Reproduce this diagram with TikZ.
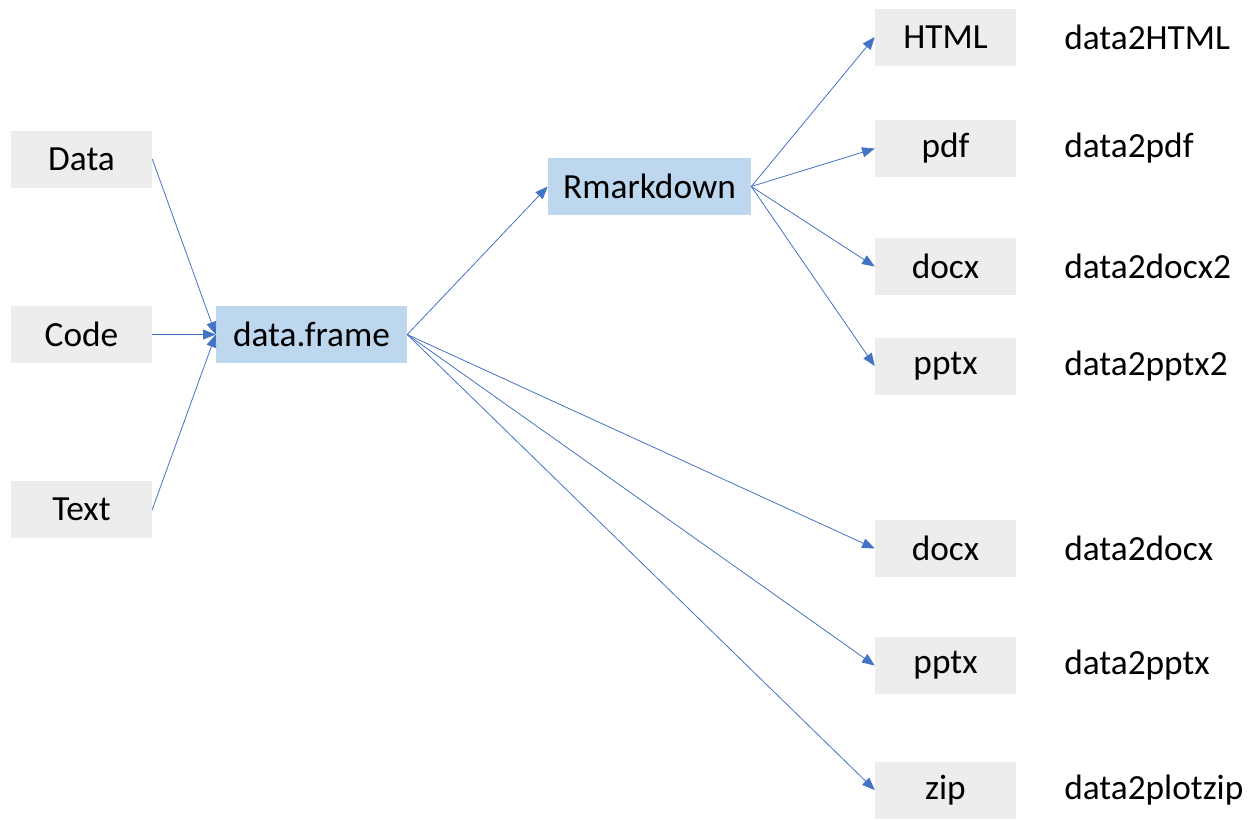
\documentclass[tikz,border=0pt]{standalone}
\usepackage{fontspec}
\setmainfont{Carlito}
\usetikzlibrary{arrows.meta}
\definecolor{boxgray}{HTML}{EDEDED}
\definecolor{boxblue}{HTML}{BDD7EE}
\definecolor{arrowblue}{HTML}{4472C4}
\tikzset{
  fmtbox/.style={fill=boxgray, minimum width=105.75pt, minimum height=42.75pt, inner sep=0pt, font=\fontsize{26.5}{31}\selectfont},
  hubbox/.style={fmtbox, fill=boxblue},
  fnlabel/.style={anchor=west, inner sep=0pt, font=\fontsize{26.5}{31}\selectfont},
  flow/.style={-{Triangle[length=9.5pt,width=7.5pt]}, arrowblue, line width=0.6pt}
}
\begin{document}
\begin{tikzpicture}[x=0.75pt, y=-0.75pt]
\useasboundingbox (0,0) rectangle (1248,819);
\node[fmtbox] (data) at (81.5,159) {Data};
\node[fmtbox] (code) at (81.5,334.5) {Code};
\node[fmtbox] (text) at (81.5,509.5) {Text};
\node[hubbox, minimum width=143.25pt] (frame) at (311.5,334.5) {data.frame};
\node[hubbox, minimum width=152.25pt] (rmd) at (649.5,186.5) {Rmarkdown};
\node[fmtbox] (html) at (945.5,37) {HTML};
\node[fmtbox] (pdf) at (945.5,148.5) {pdf};
\node[fmtbox] (docxtwo) at (945.5,266.5) {docx};
\node[fmtbox] (pptxtwo) at (945.5,366) {pptx};
\node[fmtbox] (docx) at (945.5,548.5) {docx};
\node[fmtbox] (pptx) at (945.5,665.5) {pptx};
\node[fmtbox] (zip) at (945.5,790) {zip};
\node[fnlabel] (lhtml) at (1064,37) {data2HTML};
\node[fnlabel] (lpdf) at (1064,148.5) {data2pdf};
\node[fnlabel] (ldocxtwo) at (1064,266.5) {data2docx2};
\node[fnlabel] (lpptxtwo) at (1064,366) {data2pptx2};
\node[fnlabel] (ldocx) at (1064,548.5) {data2docx};
\node[fnlabel] (lpptx) at (1064,665.5) {data2pptx};
\node[fnlabel] (lzip) at (1064,790) {data2plotzip};
\foreach \src in {data,code,text}
  \draw[flow] (\src.east) -- (frame.west);
\draw[flow] (frame.east) -- (rmd.west);
\foreach \dst in {html,pdf,docxtwo,pptxtwo}
  \draw[flow] (rmd.east) -- (\dst.west);
\foreach \dst in {docx,pptx,zip}
  \draw[flow] (frame.east) -- (\dst.west);
\end{tikzpicture}
\end{document}
